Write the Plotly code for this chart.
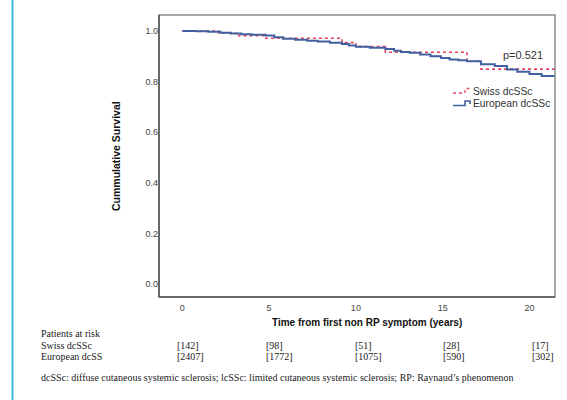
import plotly.graph_objects as go

# ---- data ----
swiss_t = [0, 2.1, 3.25, 4.7, 9.2, 10.0, 11.7, 16.4, 17.2, 21.6]
swiss_s = [1.0, 0.991, 0.981, 0.971, 0.954, 0.938, 0.916, 0.880, 0.849, 0.849]

euro_t = [0, 0.8, 1.5, 2.2, 2.8, 3.4, 4.0, 4.8, 5.3, 5.8, 6.5, 7.2, 7.8, 8.5, 9.2, 9.6,
          10.0, 10.8, 11.7, 12.2, 12.6, 13.1, 13.7, 14.3, 14.9, 15.4, 15.9, 16.4, 17.2,
          18.0, 18.7, 19.3, 20.0, 20.7, 21.6]
euro_s = [1.0, 0.999, 0.997, 0.993, 0.990, 0.987, 0.985, 0.982, 0.975, 0.969, 0.965, 0.961,
          0.958, 0.953, 0.948, 0.943, 0.938, 0.934, 0.929, 0.922, 0.917, 0.914, 0.907, 0.900,
          0.893, 0.887, 0.884, 0.880, 0.868, 0.862, 0.848, 0.839, 0.830, 0.822, 0.812]

series_names = ["Swiss dcSSc", "European dcSSc"]
x_ticks = [0, 5, 10, 15, 20]
y_ticks = [0.0, 0.2, 0.4, 0.6, 0.8, 1.0]
risk_swiss = ["[142]", "[98]", "[51]", "[28]", "[17]"]
risk_euro = ["[2407]", "[1772]", "[1075]", "[590]", "[302]"]
risk_shift = [-7, -5, -3, -2, 1]
p_text = "p=0.521"
footnote = ("dcSSc: diffuse cutaneous systemic sclerosis; lcSSc: limited cutaneous "
            "systemic sclerosis; RP: Raynaud\u2019s phenomenon")

RED = "#e8435e"
BLUE = "#41609f"

W, H = 567, 400
L, R, T, B = 159, 12, 15, 103
PW, PH = W - L - R, H - T - B


def px(x):
    return (x - L) / PW


def py(y):
    return (H - B - y) / PH


fig = go.Figure()
fig.add_trace(go.Scatter(x=swiss_t, y=swiss_s, mode="lines", line_shape="hv",
                         name=series_names[0], showlegend=False,
                         line=dict(color=RED, width=1.6, dash="dot")))
fig.add_trace(go.Scatter(x=euro_t, y=euro_s, mode="lines", line_shape="hv",
                         name=series_names[1], showlegend=False,
                         line=dict(color=BLUE, width=2)))

ann = []
ann.append(dict(x=px(523), y=py(55), xref="paper", yref="paper", text=p_text,
                showarrow=False, font=dict(family="Arial", size=11, color="#333"),
                xanchor="center", yanchor="middle"))
# manual legend text
leg_font = dict(family="Arial", size=10.3, color="#333")
ann.append(dict(x=px(471), y=py(91.5), xref="paper", yref="paper", text=series_names[0],
                showarrow=False, font=leg_font, xanchor="left", yanchor="middle"))
ann.append(dict(x=px(471), y=py(104), xref="paper", yref="paper", text=series_names[1],
                showarrow=False, font=leg_font, xanchor="left", yanchor="middle"))
# axis titles
ann.append(dict(x=px(367), y=py(322), xref="paper", yref="paper",
                text="<b>Time from first non RP symptom (years)</b>", showarrow=False,
                font=dict(family="Arial", size=10, color="#111"),
                xanchor="center", yanchor="middle"))
ann.append(dict(x=px(116), y=py(156), xref="paper", yref="paper",
                text="<b>Cummulative Survival</b>", showarrow=False, textangle=-90,
                font=dict(family="Arial", size=10.5, color="#111"),
                xanchor="center", yanchor="middle"))
serif = dict(family="Liberation Serif, Times New Roman, serif", size=10, color="#222")
ann.append(dict(x=px(39), y=py(333), xref="paper", yref="paper", text="Patients at risk",
                showarrow=False, font=serif, xanchor="left", yanchor="middle"))
ann.append(dict(x=px(39), y=py(345), xref="paper", yref="paper", text="Swiss dcSSc",
                showarrow=False, font=serif, xanchor="left", yanchor="middle"))
ann.append(dict(x=px(39), y=py(356.5), xref="paper", yref="paper", text="European dcSS",
                showarrow=False, font=serif, xanchor="left", yanchor="middle"))
for xv, s1, s2, sh in zip(x_ticks, risk_swiss, risk_euro, risk_shift):
    ann.append(dict(x=xv, y=py(345), xref="x", yref="paper", text=s1, showarrow=False,
                    font=serif, xanchor="left", yanchor="middle", xshift=sh))
    ann.append(dict(x=xv, y=py(356.5), xref="x", yref="paper", text=s2, showarrow=False,
                    font=serif, xanchor="left", yanchor="middle", xshift=sh))
ann.append(dict(x=px(39), y=py(377), xref="paper", yref="paper", text=footnote,
                showarrow=False, font=serif, xanchor="left", yanchor="middle"))


def path(pts):
    s = "M %f,%f" % (px(pts[0][0]), py(pts[0][1]))
    for a, b in pts[1:]:
        s += " L %f,%f" % (px(a), py(b))
    return s


shapes = [
    dict(type="rect", xref="paper", yref="paper", x0=0, x1=1, y0=0, y1=1,
         line=dict(color="#8c8c8c", width=1.5), layer="above"),
    dict(type="line", xref="paper", yref="paper", x0=0, x1=0, y0=0, y1=1,
         line=dict(color="#444", width=1.3), layer="above"),
    dict(type="line", xref="paper", yref="paper", x0=0, x1=1, y0=0, y1=0,
         line=dict(color="#555", width=1.5), layer="above"),
    dict(type="line", xref="paper", yref="paper", x0=px(12.5), x1=px(12.5), y0=py(0), y1=py(400),
         line=dict(color="#3cb9d9", width=2)),
    # legend glyphs (step shapes)
    dict(type="path", xref="paper", yref="paper",
         path=path([(453, 93), (465, 93), (465, 88.5), (470, 88.5), (470, 91)]),
         line=dict(color=RED, width=1.3, dash="dot")),
    dict(type="path", xref="paper", yref="paper",
         path=path([(453, 105.5), (465, 105.5), (465, 101), (470, 101), (470, 104)]),
         line=dict(color=BLUE, width=1.6)),
]

fig.update_layout(
    width=W, height=H, margin=dict(l=L, r=R, t=T, b=B),
    paper_bgcolor="white", plot_bgcolor="white",
    showlegend=False,
    annotations=ann, shapes=shapes,
    xaxis=dict(range=[-1.34, 21.47], tickvals=x_ticks, ticktext=[str(v) for v in x_ticks],
               showgrid=False, zeroline=False, showline=False, ticks="",
               ticklabelstandoff=4,
               tickfont=dict(family="Arial", size=9, color="#444")),
    yaxis=dict(range=[-0.051, 1.063], tickvals=y_ticks,
               ticktext=["%.1f" % v for v in y_ticks],
               showgrid=False, zeroline=False, showline=False, ticks="",
               tickfont=dict(family="Arial", size=9, color="#444")),
)

fig.write_html("out.html", config={"displayModeBar": False},
               post_script="document.body.style.margin='0';document.body.style.overflow='hidden';")
